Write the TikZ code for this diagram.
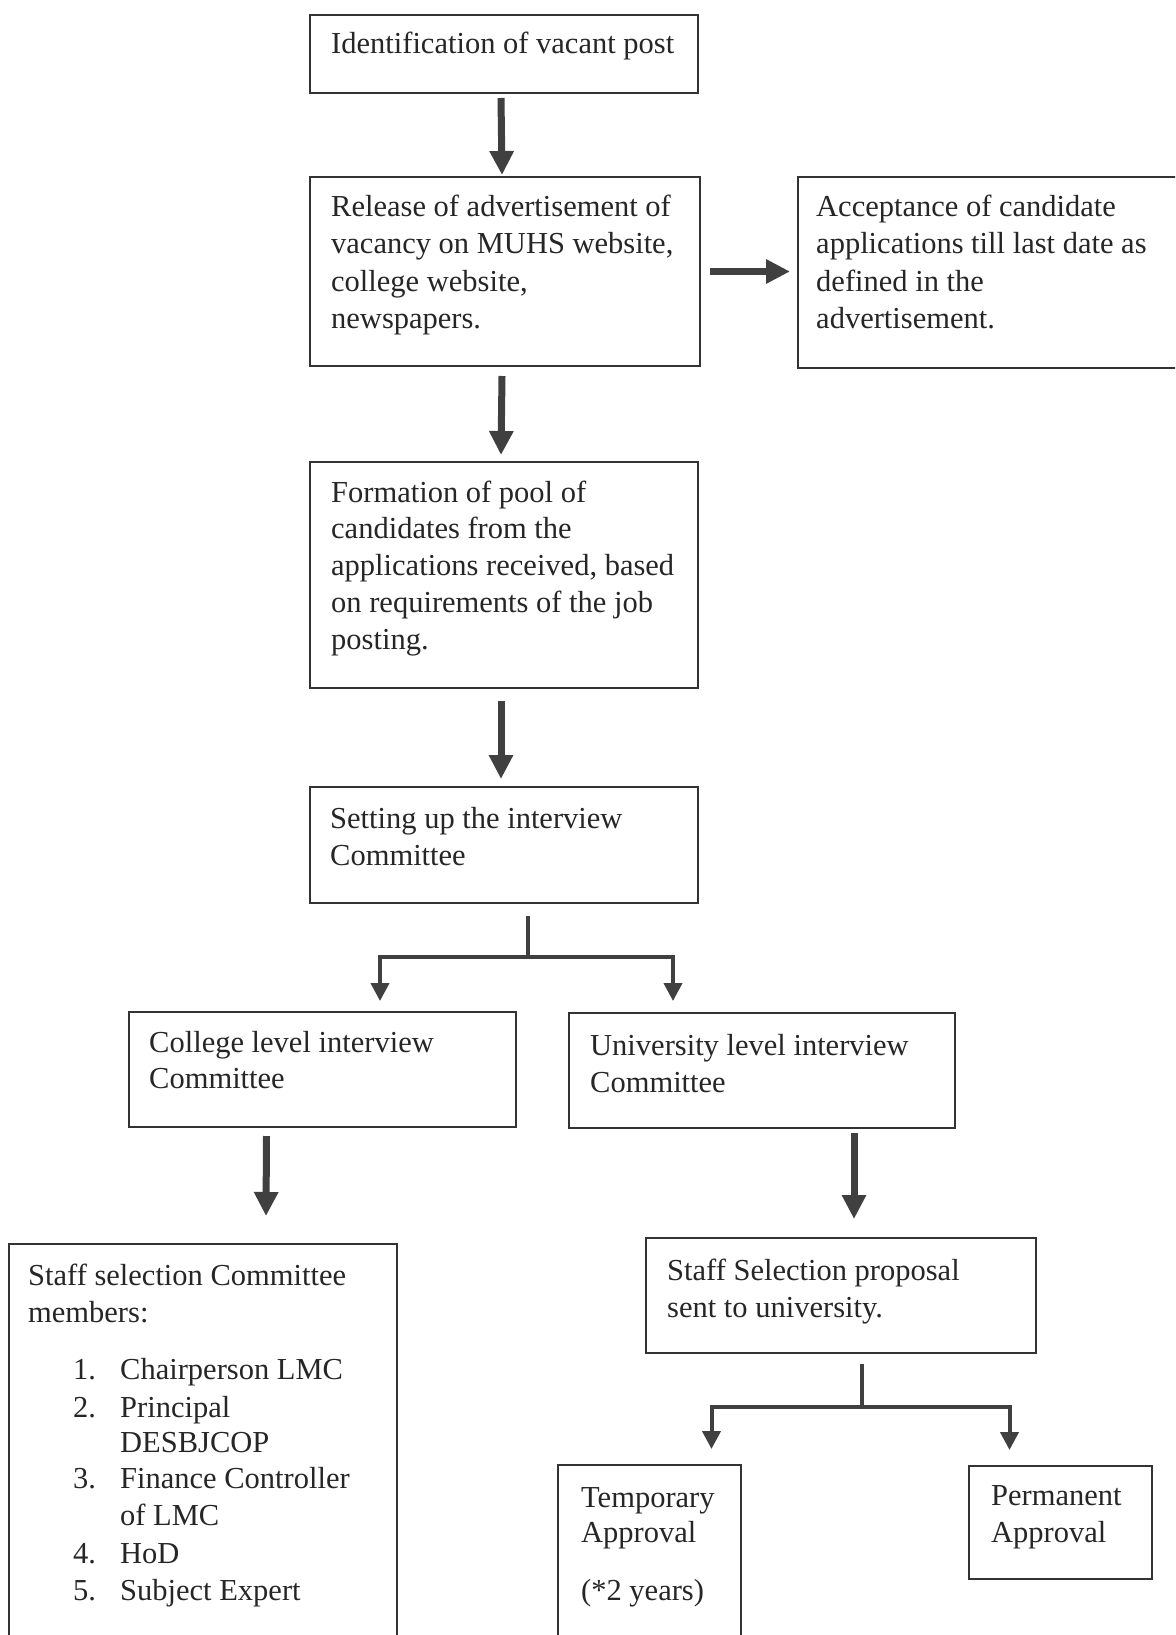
\documentclass[tikz,border=0pt]{standalone}
\usepackage{fontspec}
\setmainfont{Liberation Serif}
\usetikzlibrary{arrows.meta}
\tikzset{
  x=1pt, y=-1pt,
  box/.style={draw=black!80, line width=2pt, rectangle, inner sep=0pt, fill=none},
  txt/.style={anchor=base west, inner sep=0pt, text=black!85, font=\fontsize{30.5}{37}\selectfont},
  bigarrow/.style={draw=black!75, line width=7pt, -{Triangle[width=23pt,length=24pt]}},
  thinarrow/.style={draw=black!75, line width=4pt, -{Triangle[width=18pt,length=18pt]}},
  trunk/.style={draw=black!75, line width=4pt},
}
\newcommand\mybox[5]{%
  \pgfmathsetmacro\bw{#4-#2}\pgfmathsetmacro\bh{#5-#3}%
  \node[box, minimum width=\bw pt, minimum height=\bh pt] (#1) at ({(#2+#4)/2},{(#3+#5)/2}) {};}
\begin{document}
\begin{tikzpicture}
\useasboundingbox (0,0) rectangle (1175,1635);
\clip (0,0) rectangle (1175,1635);
\fill[white] (0,0) rectangle (1175,1635);
% boxes
\mybox{b1}{310}{15}{698}{93}
\mybox{b2}{310}{177}{700}{366}
\mybox{b3}{798}{177}{1200}{368}
\mybox{b4}{310}{462}{698}{688}
\mybox{b5}{310}{787}{698}{903}
\mybox{b6}{129}{1012}{516}{1127}
\mybox{b7}{569}{1013}{955}{1128}
\mybox{b8}{9}{1244}{397}{1680}
\mybox{b9}{646}{1238}{1036}{1353}
\mybox{b10}{558}{1465}{741}{1680}
\mybox{b11}{969}{1466}{1152}{1579}
% texts
\node[txt] (t1) at (331,54) {Identification of vacant post};
\node[txt] (t2a) at (331,216) {Release of advertisement of};
\node[txt] (t2b) at (331,253.5) {vacancy on MUHS website,};
\node[txt] (t2c) at (331,291) {college website,};
\node[txt] (t2d) at (331,328.5) {newspapers.};
\node[txt] (t3a) at (816,216) {Acceptance of candidate};
\node[txt] (t3b) at (816,253.5) {applications till last date as};
\node[txt] (t3c) at (816,291) {defined in the};
\node[txt] (t3d) at (816,328.5) {advertisement.};
\node[txt] (t4a) at (331,502) {Formation of pool of};
\node[txt] (t4b) at (331,538.75) {candidates from the};
\node[txt] (t4c) at (331,575.5) {applications received, based};
\node[txt] (t4d) at (331,612.25) {on requirements of the job};
\node[txt] (t4e) at (331,649) {posting.};
\node[txt] (t5a) at (330,828) {Setting up the interview};
\node[txt] (t5b) at (330,865) {Committee};
\node[txt] (t6a) at (149,1052) {College level interview};
\node[txt] (t6b) at (149,1088) {Committee};
\node[txt] (t7a) at (590,1055) {University level interview};
\node[txt] (t7b) at (590,1092) {Committee};
\node[txt] (t8a) at (28,1285) {Staff selection Committee};
\node[txt] (t8b) at (28,1322) {members:};
\node[txt] (n1) at (73,1379) {1.};
\node[txt] (i1) at (120,1379) {Chairperson LMC};
\node[txt] (n2) at (73,1417) {2.};
\node[txt] (i2) at (120,1417) {Principal};
\node[txt] (i2b) at (120,1452) {DESBJCOP};
\node[txt] (n3) at (73,1488) {3.};
\node[txt] (i3) at (120,1488) {Finance Controller};
\node[txt] (i3b) at (120,1525) {of LMC};
\node[txt] (n4) at (73,1563) {4.};
\node[txt] (i4) at (120,1563) {HoD};
\node[txt] (n5) at (73,1600) {5.};
\node[txt] (i5) at (120,1600) {Subject Expert};
\node[txt] (t9a) at (667,1280) {Staff Selection proposal};
\node[txt] (t9b) at (667,1317) {sent to university.};
\node[txt] (t10a) at (581,1507) {Temporary};
\node[txt] (t10b) at (581,1542) {Approval};
\node[txt] (t10c) at (581,1600) {(*2 years)};
\node[txt] (t11a) at (991,1505) {Permanent};
\node[txt] (t11b) at (991,1542) {Approval};
% connectors
\coordinate (j5) at (528,957);
\coordinate (j9) at (862,1407);
\draw[bigarrow] ([xshift=-3pt,yshift=-4pt]b1.south) -- ([xshift=-3pt,yshift=1pt]b2.north);
\draw[bigarrow] ([xshift=-3pt,yshift=-9pt]b2.south) -- ([xshift=-3pt,yshift=6pt]b4.north);
\draw[bigarrow] ([xshift=9pt]b2.east) -- ([xshift=-7pt]b2.east -| b3.west);
\draw[bigarrow] ([xshift=-3pt,yshift=-12pt]b4.south) -- ([xshift=-3pt,yshift=7pt]b5.north);
\draw[trunk] ([xshift=24pt,yshift=-12pt]b5.south) -- (j5);
\draw[thinarrow] (j5) -| ([xshift=-137pt,yshift=10pt]b6.north east);
\draw[thinarrow] (j5) -| ([xshift=105pt,yshift=11pt]b7.north west);
\draw[bigarrow] ([xshift=-56pt,yshift=-8pt]b6.south) -- ([xshift=63pt,yshift=27pt]b8.north);
\draw[bigarrow] ([xshift=92pt,yshift=-4pt]b7.south) -- ([xshift=13pt,yshift=18pt]b9.north);
\draw[trunk] ([xshift=21pt,yshift=-10pt]b9.south) -- (j9);
\draw[thinarrow] (j9) -| ([xshift=62pt,yshift=15pt]b10.north);
\draw[thinarrow] (j9) -| ([xshift=-51pt,yshift=15pt]b11.north);
\end{tikzpicture}
\end{document}
